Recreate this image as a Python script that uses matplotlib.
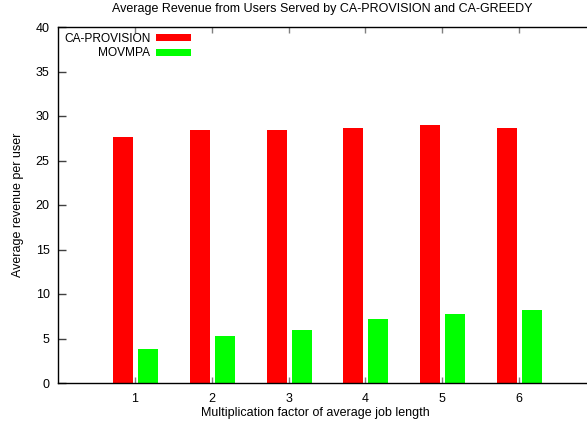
import matplotlib
matplotlib.use("Agg")
import matplotlib.pyplot as plt
import numpy as np

plt.rcParams['font.family'] = ['Liberation Sans', 'DejaVu Sans']

categories = [1, 2, 3, 4, 5, 6]
ca_provision = [27.6, 28.4, 28.4, 28.7, 29.0, 28.7]
movmpa = [3.8, 5.3, 6.0, 7.2, 7.8, 8.2]
y_ticks = [0, 5, 10, 15, 20, 25, 30, 35, 40]

W, H = 587, 425
fig = plt.figure(figsize=(W / 100, H / 100), dpi=100)
left, right, top, bottom = 58, 596, 27, 383
ax = fig.add_axes([left / W, 1 - bottom / H, (right - left) / W, (bottom - top) / H])

x = np.array(categories, dtype=float)
bw = 0.26
ax.bar(x - 0.156, ca_provision, width=bw, color='#ff0000', label='CA-PROVISION', linewidth=0)
ax.bar(x + 0.169, movmpa, width=bw, color='#00ff00', label='MOVMPA', linewidth=0)

ax.set_xlim(0, 7)
ax.set_ylim(0, 40)
ax.set_xticks(categories)
ax.set_xticklabels([str(c) for c in categories])
ax.set_yticks(y_ticks)
ax.tick_params(axis='x', direction='in', length=4, width=1, color='#808080',
               top=True, labelsize=9, pad=7)
ax.tick_params(axis='y', direction='in', length=6, width=1, color='#404040',
               right=True, labelsize=9, pad=6)
for s in ax.spines.values():
    s.set_linewidth(1.0)

fig.text(322 / W, 1 - 9 / H, 'Average Revenue from Users Served by CA-PROVISION and CA-GREEDY',
         ha='center', va='center', fontsize=9)
ax.set_xlabel('Multiplication factor of average job length', fontsize=9)
ax.xaxis.set_label_coords((315 - left) / (right - left), -(413 - bottom) / (bottom - top),
                          transform=ax.transAxes)
ax.xaxis.label.set_va('center')
ax.set_ylabel('Average revenue per user', fontsize=9)
ax.yaxis.set_label_coords(-(left - 18) / (right - left), 0.5)
ax.yaxis.label.set_va('center')

leg = ax.legend(loc='upper left', markerfirst=False, frameon=False, fontsize=8.6,
                handlelength=2.9, handleheight=0.5, handletextpad=0.5,
                labelspacing=0.2, borderaxespad=0.3, borderpad=0.2)

fig.savefig('out.png', dpi=100)
